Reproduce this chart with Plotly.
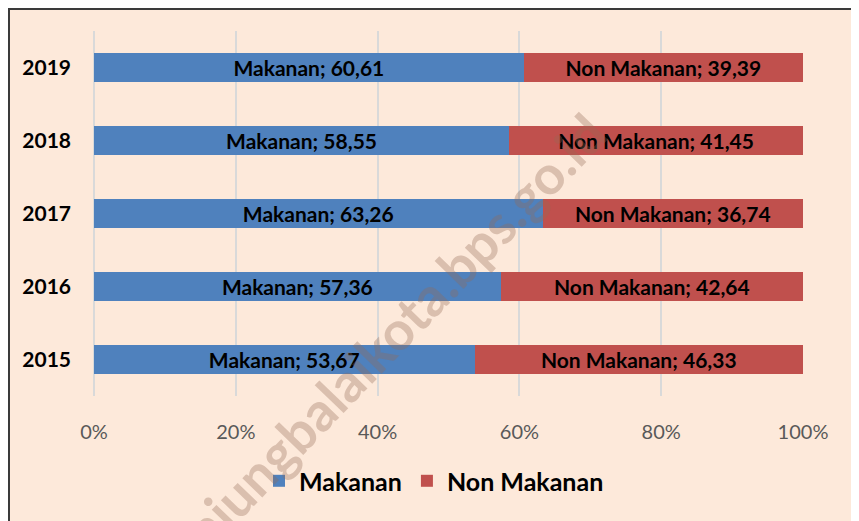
import plotly.graph_objects as go

# data
years = ["2015", "2016", "2017", "2018", "2019"]
makanan = [53.67, 57.36, 63.26, 58.55, 60.61]
non_makanan = [46.33, 42.64, 36.74, 41.45, 39.39]
x_ticks = [0, 20, 40, 60, 80, 100]
x_tick_labels = ["0%", "20%", "40%", "60%", "80%", "100%"]

BG = "#FDE9DA"
BLUE = "#4F81BD"
RED = "#C0504D"
FONT = "Lato"


def fmt(v):
    return f"{v:.2f}".replace(".", ",")


fig = go.Figure()

for name, vals, color in [("Makanan", makanan, BLUE), ("Non Makanan", non_makanan, RED)]:
    fig.add_trace(go.Bar(
        y=years,
        x=vals,
        name=name,
        orientation="h",
        marker=dict(color=color, line=dict(width=0)),
        width=0.4,
        text=[f"{name}; {fmt(v)}" for v in vals],
        textposition="inside",
        insidetextanchor="middle",
        constraintext="none",
        textfont=dict(family=FONT, size=21, color="black", weight="bold"),
        hoverinfo="x+y+name",
    ))

# frame of the chart area (page has an 8px body margin)
fig.add_shape(type="rect", xref="paper", yref="paper",
              x0=-0.1199, x1=1.2, y0=-0.5, y1=1.0603,
              fillcolor=BG, line=dict(color="#3a3a3a", width=2), layer="below")

# watermark
fig.add_annotation(text="tanjungbalaikota.bps.go.id", xref="paper", yref="paper",
                   x=0.40, y=0.13, xanchor="center", yanchor="middle",
                   showarrow=False, textangle=-46,
                   font=dict(family=FONT, size=54, color="rgba(150,105,85,0.33)", weight="bold"))

fig.update_layout(
    barmode="stack",
    width=859,
    height=521,
    margin=dict(l=86, r=64, t=23, b=133),
    paper_bgcolor="white",
    plot_bgcolor="rgba(0,0,0,0)",
    xaxis=dict(
        range=[0, 100],
        tickvals=x_ticks,
        ticktext=x_tick_labels,
        showgrid=True,
        gridcolor="#D9D9D9",
        gridwidth=1.5,
        zeroline=True,
        zerolinecolor="#D9D9D9",
        zerolinewidth=1.5,
        showline=False,
        automargin=False,
        ticklabelstandoff=22,
        tickfont=dict(family=FONT, size=20, color="#595959"),
        fixedrange=True,
    ),
    yaxis=dict(
        categoryorder="array",
        categoryarray=years,
        showgrid=False,
        zeroline=False,
        automargin=False,
        ticklabelstandoff=22,
        tickfont=dict(family=FONT, size=21, color="black", weight="bold"),
        fixedrange=True,
    ),
    legend=dict(
        orientation="h",
        traceorder="normal",
        x=0.2327, xanchor="left",
        y=-0.233, yanchor="middle",
        font=dict(family=FONT, size=25, color="black", weight="bold"),
        bgcolor="rgba(0,0,0,0)",
        itemclick=False,
        itemdoubleclick=False,
    ),
    showlegend=True,
)

fig.write_html("out.html")
